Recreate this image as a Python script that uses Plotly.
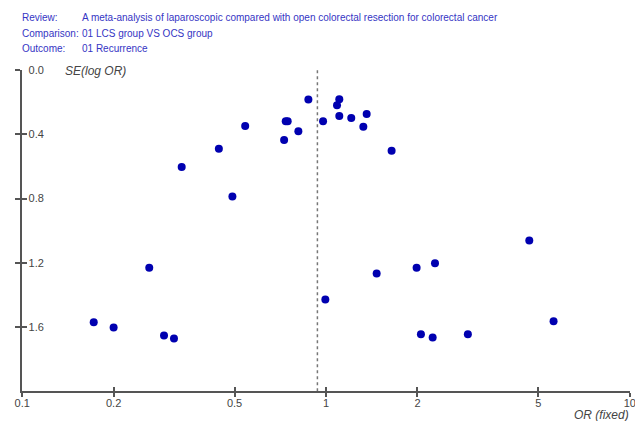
import plotly.graph_objects as go

# Study estimates
odds_ratio = [0.335, 0.444, 0.492, 0.542, 0.728, 0.737, 0.748, 0.811, 0.875, 0.978,
              1.106, 1.087, 1.106, 1.211, 1.361, 1.327, 1.644,
              0.262, 0.172, 0.200, 0.293, 0.316, 0.995,
              1.468, 1.987, 2.284, 4.667, 5.61, 2.053, 2.244, 2.93]
se_log_or = [0.604, 0.490, 0.788, 0.348, 0.435, 0.319, 0.319, 0.381, 0.183, 0.319,
             0.181, 0.219, 0.285, 0.298, 0.273, 0.352, 0.502,
             1.231, 1.571, 1.604, 1.654, 1.673, 1.429,
             1.267, 1.231, 1.204, 1.0625, 1.565, 1.646, 1.667, 1.646]

pooled_or = [0.937, 0.937]
pooled_span = [0.0, 2.0]

x_ticks = [0.1, 0.2, 0.5, 1, 2, 5, 10]
x_tick_labels = ["0.1", "0.2", "0.5", "1", "2", "5", "10"]
y_ticks = [0.0, 0.4, 0.8, 1.2, 1.6]
y_tick_labels = ["0.0", "0.4", "0.8", "1.2", "1.6"]

header_keys = ["Review:", "Comparison:", "Outcome:"]
header_vals = ["A meta-analysis of laparoscopic compared with open colorectal resection for colorectal cancer",
               "01 LCS group VS OCS group",
               "01 Recurrence"]

FONT = "Liberation Sans, Arial, sans-serif"
AXIS_COL = "#555555"
TXT_COL = "#444444"
HEAD_COL = "#3535c4"

fig = go.Figure()
fig.add_trace(go.Scatter(x=pooled_or, y=pooled_span, mode="lines",
                         line=dict(color="#777777", width=1.5, dash="dot"),
                         hoverinfo="skip", showlegend=False))
fig.add_trace(go.Scatter(x=odds_ratio, y=se_log_or, mode="markers",
                         marker=dict(color="#0000b0", size=8),
                         showlegend=False))

L, R, T, B = 22, 5, 70, 30
W, H = 635, 421
pw = W - L - R
ph = H - T - B

common_x = dict(type="log", range=[-1.0005, 1.0005], showgrid=False, zeroline=False,
                showline=True, linecolor=AXIS_COL, linewidth=1.5, automargin=False,
                tickvals=x_ticks, ticktext=x_tick_labels, tickcolor=AXIS_COL,
                tickwidth=1.5, ticklen=4)
common_y = dict(range=[2.0, -0.001], showgrid=False, zeroline=False,
                showline=True, linecolor=AXIS_COL, linewidth=1.5, automargin=False,
                tickvals=y_ticks, ticktext=y_tick_labels, tickcolor=AXIS_COL,
                tickwidth=1.5, ticklen=5)

fig.update_layout(
    width=W, height=H,
    margin=dict(l=L, r=R, t=T, b=B),
    paper_bgcolor="white", plot_bgcolor="white",
    font=dict(family=FONT, size=11, color=TXT_COL),
    xaxis=dict(**common_x, ticks="outside", ticklabeloverflow="allow",
               ticklabelstandoff=-3, tickfont=dict(size=11, color=TXT_COL)),
    yaxis=dict(**common_y, ticks="outside", ticklabelposition="inside",
               ticklabeloverflow="allow", ticklabelstandoff=6,
               tickfont=dict(size=11, color=TXT_COL)),
    xaxis2=dict(**common_x, ticks="inside", overlaying="x", showticklabels=False),
    yaxis2=dict(**common_y, ticks="inside", overlaying="y", showticklabels=False),
)
# invisible trace to activate overlay axes
fig.add_trace(go.Scatter(x=[0.5], y=[1.0], xaxis="x2", yaxis="y2", mode="markers",
                         marker=dict(opacity=0), hoverinfo="skip", showlegend=False))

line_y = [17, 33, 48]
for k, v, py in zip(header_keys, header_vals, line_y):
    yp = (H - B - py) / ph
    fig.add_annotation(text=k, xref="paper", yref="paper", x=(20 - L) / pw, y=yp,
                       xanchor="left", yanchor="middle", showarrow=False,
                       font=dict(family=FONT, size=10, color=HEAD_COL))
    fig.add_annotation(text=v, xref="paper", yref="paper", x=(80 - L) / pw, y=yp,
                       xanchor="left", yanchor="middle", showarrow=False,
                       font=dict(family=FONT, size=10, color=HEAD_COL))

fig.add_annotation(text="<i>SE(log OR)</i>", xref="paper", yref="paper",
                   x=(63 - L) / pw, y=(H - B - 71) / ph, xanchor="left", yanchor="middle",
                   showarrow=False, font=dict(family=FONT, size=12, color=TXT_COL))
fig.add_annotation(text="<i>OR (fixed)</i>", xref="paper", yref="paper",
                   x=(631 - L) / pw, y=(H - B - 415) / ph, xanchor="right", yanchor="middle",
                   showarrow=False, font=dict(family=FONT, size=12, color=TXT_COL))

fig.write_html("out.html")
